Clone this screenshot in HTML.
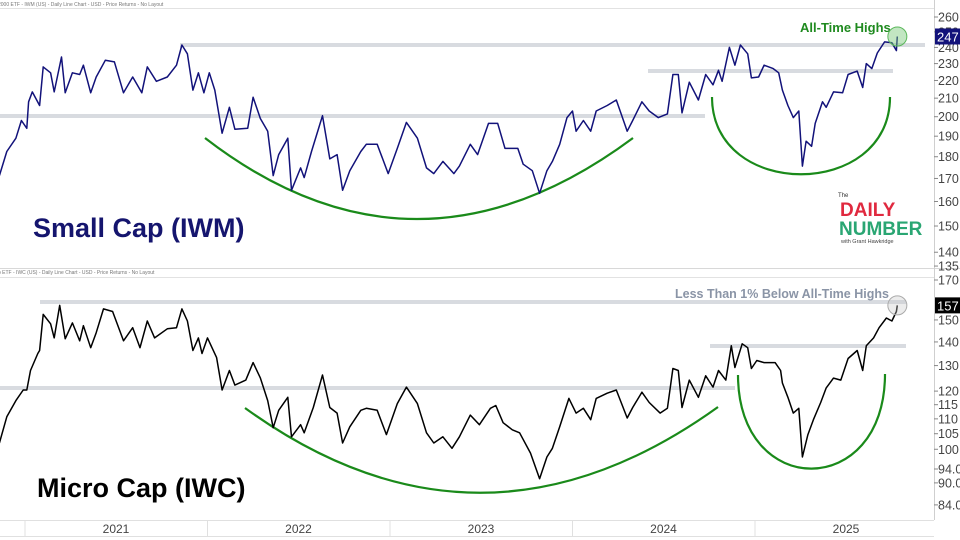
<!DOCTYPE html>
<html><head><meta charset="utf-8"><style>
html,body{margin:0;padding:0;background:#fff;width:960px;height:540px;overflow:hidden}
svg{display:block;font-family:"Liberation Sans",sans-serif}
</style></head><body>
<svg id="c" width="960" height="540" viewBox="0 0 960 540">
<rect x="0" y="0" width="960" height="540" fill="#fff"/>
<g id="frame">
<line x1="0" y1="8.5" x2="934" y2="8.5" stroke="#e2e2e2"/>
<line x1="0" y1="268.5" x2="960" y2="268.5" stroke="#d8d8d8"/>
<line x1="0" y1="277.5" x2="934" y2="277.5" stroke="#e2e2e2"/>
<line x1="934.5" y1="0" x2="934.5" y2="520" stroke="#cfcfcf"/>
<line x1="0" y1="520.5" x2="934" y2="520.5" stroke="#e0e0e0"/>
<line x1="0" y1="536.5" x2="934" y2="536.5" stroke="#e0e0e0"/>
</g>
<text x="-2" y="6" font-size="5" fill="#777">2000 ETF - IWM (US) - Daily Line Chart - USD - Price Returns - No Layout</text>
<text x="-2" y="274" font-size="5" fill="#777">p ETF - IWC (US) - Daily Line Chart - USD - Price Returns - No Layout</text>
<g id="ann">
<rect x="180" y="43" width="745" height="4" fill="#d8dbe0"/>
<rect x="0" y="114" width="705" height="4" fill="#d8dbe0"/>
<rect x="648" y="69" width="245" height="4" fill="#d8dbe0"/>
<rect x="40" y="300" width="866" height="4" fill="#d8dbe0"/>
<rect x="0" y="386" width="735" height="4" fill="#d8dbe0"/>
<rect x="710" y="344" width="196" height="4" fill="#d8dbe0"/>
<path d="M205,138 Q415,300 633,138" fill="none" stroke="#1a8a1a" stroke-width="2.2"/>
<path d="M712,97 C712,200 890,200 890,97" fill="none" stroke="#1a8a1a" stroke-width="2.2"/>
<path d="M245,408 Q480,578 718,407" fill="none" stroke="#1a8a1a" stroke-width="2.2"/>
<path d="M738,375 C738,500 885,500 885,374" fill="none" stroke="#1a8a1a" stroke-width="2.2"/>
<text x="800" y="32" font-size="13" font-weight="bold" fill="#1f8a1f">All-Time Highs</text>
<text x="675" y="298" font-size="12.5" font-weight="bold" fill="#8a94a6">Less Than 1% Below All-Time Highs</text>
<text x="33" y="237" font-size="27" font-weight="bold" fill="#15156e">Small Cap (IWM)</text>
<text x="37" y="497" font-size="27" font-weight="bold" fill="#000">Micro Cap (IWC)</text>
<g>
<text x="838" y="197" font-size="6" fill="#333">The</text>
<text x="840" y="216" font-size="19" font-weight="bold" fill="#e0293f">DAILY</text>
<text x="839" y="235" font-size="19" font-weight="bold" fill="#2aa673">NUMBER</text>
<text x="841" y="243" font-size="5.5" fill="#444">with Grant Hawkridge</text>
</g>
</g>
<g id="series"></g>
<g id="axes"></g>
</svg>
<script>
const topYears=[2020.86,2020.90,2020.95,2020.98,2021.01,2021.02,2021.04,2021.08,2021.10,2021.14,2021.16,2021.20,2021.22,2021.26,2021.30,2021.32,2021.36,2021.39,2021.44,2021.49,2021.54,2021.59,2021.64,2021.67,2021.72,2021.78,2021.83,2021.86,2021.89,2021.92,2021.95,2021.98,2022.01,2022.04,2022.08,2022.12,2022.15,2022.22,2022.25,2022.29,2022.33,2022.36,2022.39,2022.44,2022.46,2022.51,2022.53,2022.57,2022.63,2022.67,2022.71,2022.74,2022.78,2022.84,2022.87,2022.93,2022.99,2023.04,2023.09,2023.15,2023.20,2023.24,2023.29,2023.35,2023.38,2023.44,2023.48,2023.54,2023.59,2023.63,2023.70,2023.73,2023.78,2023.82,2023.86,2023.89,2023.93,2023.97,2024.00,2024.02,2024.06,2024.10,2024.13,2024.19,2024.24,2024.30,2024.33,2024.38,2024.42,2024.47,2024.52,2024.55,2024.58,2024.60,2024.64,2024.69,2024.73,2024.77,2024.80,2024.82,2024.86,2024.89,2024.92,2024.96,2024.98,2025.02,2025.05,2025.10,2025.13,2025.15,2025.18,2025.21,2025.24,2025.26,2025.28,2025.31,2025.33,2025.37,2025.39,2025.43,2025.48,2025.51,2025.56,2025.59,2025.61,2025.64,2025.67,2025.71,2025.75,2025.775,2025.78];
const topValues=[171.3,182.5,189,198,194,208,213.5,206,228,224.5,213.5,234,213,224.5,223.5,229,213,222,232,231,213,222,213,228,219.5,222,229,241.5,236,214.5,224.5,213,224.5,214.5,191.5,205,193.5,194,210.5,199,192.5,171.3,181,189,164.8,174.8,170.4,182.5,200.5,179,181,164.8,173.5,182.5,186,186,172.2,184,197,189,174.8,172.2,177.8,172.2,175.6,186,181,196.5,196.5,184,184,176.5,173.5,163.5,173.5,177.8,186,199.5,203,192.5,198,192.5,203,206,209,192.5,198,208,203,199.5,201.5,223.5,223.5,202,219,209,223.5,217.5,226,219.5,240,229,241.5,236,221.5,222,229,227,224.5,214.5,206,199.5,203,175.6,187.5,185,196.5,208,205,213.5,213,223.5,225.5,216,230,227,236.5,243.5,243,238,247];
const botYears=[2020.86,2020.90,2020.95,2020.99,2021.01,2021.03,2021.07,2021.08,2021.10,2021.14,2021.16,2021.19,2021.22,2021.26,2021.30,2021.32,2021.36,2021.39,2021.43,2021.48,2021.54,2021.59,2021.63,2021.67,2021.71,2021.78,2021.83,2021.86,2021.89,2021.92,2021.95,2021.97,2022.00,2022.05,2022.08,2022.12,2022.15,2022.21,2022.25,2022.29,2022.33,2022.36,2022.39,2022.44,2022.46,2022.51,2022.53,2022.58,2022.63,2022.67,2022.71,2022.74,2022.78,2022.84,2022.87,2022.93,2022.98,2023.04,2023.09,2023.15,2023.20,2023.24,2023.29,2023.34,2023.38,2023.44,2023.49,2023.55,2023.58,2023.62,2023.67,2023.71,2023.77,2023.82,2023.86,2023.89,2023.93,2023.98,2024.02,2024.06,2024.10,2024.13,2024.19,2024.24,2024.30,2024.33,2024.38,2024.42,2024.48,2024.52,2024.55,2024.58,2024.60,2024.64,2024.69,2024.73,2024.77,2024.80,2024.84,2024.87,2024.89,2024.93,2024.96,2024.98,2025.01,2025.05,2025.11,2025.14,2025.15,2025.18,2025.21,2025.24,2025.26,2025.29,2025.32,2025.36,2025.39,2025.43,2025.47,2025.51,2025.56,2025.59,2025.61,2025.65,2025.68,2025.72,2025.75,2025.775,2025.78];
const botValues=[102,110.7,116.5,120.4,120.4,128,135,136.3,152.6,148.2,141.8,157,141.4,148.6,140.5,147.3,137.5,144.1,155.3,154,140.5,146.4,137.5,149.5,141.8,145.9,146.4,155.3,149.5,136.3,141.8,135,141.8,133.3,120.4,128,122.3,124.2,131.2,125,116.5,107,113,117.7,104,108,105.3,114,126.2,114,112,102,107.3,113,113.7,113,104.7,115.4,121.5,115.4,105.3,102,104,100.3,104,111.3,108,113.7,114.7,108.7,106.3,105.3,98.8,91.2,97.6,100.3,107.3,117.3,112,113.7,109.7,117.3,119.2,120.4,110.3,114,119.6,115.8,112,113.7,128.8,128,114,124.2,117.7,125.9,121.5,128,124.2,138.3,129.2,139.2,137.5,128.8,132.1,131.2,131.2,128,123.1,117.7,112,113.7,97.6,104.7,109.7,115.8,121.2,125,124.2,132.9,136.3,128,138.3,141.8,146.4,150.9,149.5,154,157];
const topTicks=[260,250,240,230,220,210,200,190,180,170,160,150,140,135];
const botTicks=[170,150,140,130,120,115,110,105,100,94,90,84];
const yearLabels=[2021,2022,2023,2024,2025];
const NS='http://www.w3.org/2000/svg';
function xS(yr){return 25+(yr-2021)*182.5;}
function yTop(v){return 17+380*Math.log(260/v);}
function yBot(v){return 280+319*Math.log(170/v);}
function mk(tag,attrs,parent){const e=document.createElementNS(NS,tag);for(const k in attrs)e.setAttribute(k,attrs[k]);parent.appendChild(e);return e;}
const S=document.getElementById('series');
const A=document.getElementById('axes');
function line(xs,vs,yf,color){let d='';const n=Math.min(xs.length,vs.length);for(let i=0;i<n;i++){d+=(i?'L':'M')+xS(xs[i]).toFixed(1)+','+yf(vs[i]).toFixed(1);}return mk('path',{d:d,fill:'none',stroke:color,'stroke-width':1.5,'stroke-linejoin':'round'},S);}
const l1=line(topYears,topValues,yTop,'#12127a');


const l2=line(botYears,botValues,yBot,'#000');


const lt=topValues[topValues.length-1], lb=botValues[botValues.length-1];
const c1=mk('circle',{cx:xS(topYears[topYears.length-1]),cy:yTop(lt),r:9.5,fill:'rgba(120,200,120,0.45)',stroke:'#5cb85c','stroke-width':1},S);


const c2=mk('circle',{cx:xS(botYears[botYears.length-1]),cy:yBot(lb),r:9.5,fill:'rgba(200,200,200,0.35)',stroke:'#aaa','stroke-width':1},S);


topTicks.forEach(v=>{const y=yTop(v);mk('line',{x1:934,y1:y,x2:938,y2:y,stroke:'#888'},A);
const t=mk('text',{x:938,y:y+4.5,'font-size':12.5,fill:'#444'},A);t.textContent=String(v);

});
botTicks.forEach(v=>{const y=yBot(v);mk('line',{x1:934,y1:y,x2:938,y2:y,stroke:'#888'},A);
const t=mk('text',{x:938,y:y+4.5,'font-size':12.5,fill:'#444'},A);t.textContent=v<100?v.toFixed(1):String(v);

});
const b1=mk('rect',{x:935,y:yTop(lt)-8,width:25,height:16,fill:'#12127a'},A);


const bt1=mk('text',{x:937,y:yTop(lt)+5,'font-size':13,fill:'#fff'},A);bt1.textContent=String(Math.round(lt));


const b2=mk('rect',{x:935,y:yBot(lb)-8,width:25,height:16,fill:'#000'},A);


const bt2=mk('text',{x:937,y:yBot(lb)+5,'font-size':13,fill:'#fff'},A);bt2.textContent=String(Math.round(lb));


yearLabels.forEach(yr=>{const x=xS(yr);mk('line',{x1:x,y1:520,x2:x,y2:536,stroke:'#e0e0e0'},A);
const t=mk('text',{x:x+91,y:533,'font-size':12,fill:'#444','text-anchor':'middle'},A);t.textContent=String(yr);

});
</script>
</body></html>
